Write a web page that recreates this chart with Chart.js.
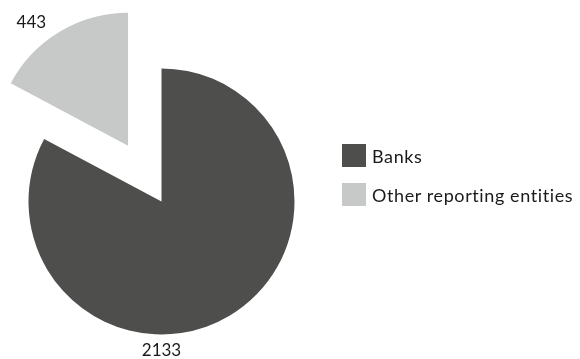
<!DOCTYPE html>
<html>
<head>
<meta charset="utf-8">
<script src="https://cdn.jsdelivr.net/npm/chart.js@4"></script>
<style>
  html, body { margin: 0; padding: 0; background: #fff; }
  #wrap { position: relative; width: 580px; height: 359px; }
  #legend { position: absolute; left: 342px; top: 144px; font-family: 'Lato', sans-serif; font-size: 18px; letter-spacing: 0.6px; color: #1a1a1a; }
  .item { display: flex; align-items: center; height: 23px; margin-bottom: 16px; white-space: nowrap; }
  .box { width: 24px; height: 23px; margin-right: 6px; }
</style>
</head>
<body>
<div id="wrap">
  <canvas id="pie" width="580" height="359"></canvas>
  <div id="legend"></div>
</div>
<script>
// slice data
const labels = ['Banks', 'Other reporting entities'];
const values = [2133, 443];
const colors = ['#4e4e4c', '#c7c8c8'];
const explode = [0, 65];          // px pulled out along mid-angle
const labelAngle = [180, -38];    // deg from 12 o'clock, clockwise
const labelGap = [16, 24];        // px beyond the rim

// pulls a slice out along its mid-angle
const explodePlugin = {
  id: 'explode',
  afterDatasetUpdate(chart, args) {
    chart.getDatasetMeta(args.index).data.forEach((arc, i) => {
      const mid = (arc.startAngle + arc.endAngle) / 2;
      arc.x += Math.cos(mid) * explode[i];
      arc.y += Math.sin(mid) * explode[i];
    });
  }
};

// value labels outside the rim
const valueLabels = {
  id: 'valueLabels',
  afterDatasetsDraw(chart) {
    const ctx = chart.ctx;
    ctx.save();
    ctx.font = "17px 'Lato', sans-serif";
    ctx.fillStyle = '#1a1a1a';
    ctx.textAlign = 'center';
    ctx.textBaseline = 'middle';
    chart.getDatasetMeta(0).data.forEach((arc, i) => {
      const a = (labelAngle[i] - 90) * Math.PI / 180;
      const d = arc.outerRadius + labelGap[i];
      ctx.fillText(values[i], arc.x + Math.cos(a) * d, arc.y + Math.sin(a) * d);
    });
    ctx.restore();
  }
};

new Chart(document.getElementById('pie'), {
  type: 'pie',
  data: {
    labels: labels,
    datasets: [{
      data: values,
      backgroundColor: colors,
      borderWidth: 0,
    }]
  },
  options: {
    responsive: false,
    animation: false,
    radius: 133,
    layout: { padding: { left: 0, right: 257, top: 44, bottom: 0 } },
    plugins: { legend: { display: false }, tooltip: { enabled: false } }
  },
  plugins: [explodePlugin, valueLabels]
});

// legend
const legend = document.getElementById('legend');
labels.forEach((l, i) => {
  const row = document.createElement('div');
  row.className = 'item';
  row.innerHTML = `<span class="box" style="background:${colors[i]}"></span><span>${l}</span>`;
  legend.appendChild(row);
});
</script>
</body>
</html>
